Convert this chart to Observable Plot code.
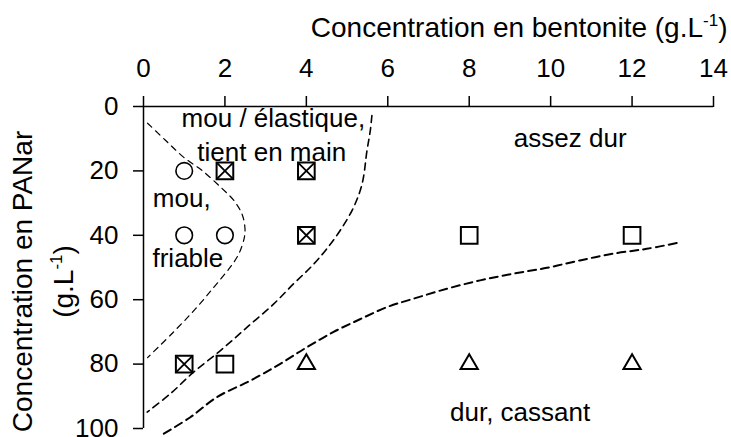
<!DOCTYPE html>
<html><head><meta charset="utf-8">
<script src="https://cdn.jsdelivr.net/npm/d3@7"></script>
<script src="https://cdn.jsdelivr.net/npm/@observablehq/plot@0.6"></script>
<style>body{margin:0;background:#fff} svg{display:block}</style>
</head><body><div id="chart"></div>
<script>
const xTicks = [0, 2, 4, 6, 8, 10, 12, 14];
const yTicks = [0, 20, 40, 60, 80, 100];

// observations
const bentonite = [1, 2, 4, 1, 2, 4, 8, 12, 1, 2, 4, 8, 12];
const panar     = [20, 20, 20, 40, 40, 40, 40, 40, 80, 80, 80, 80, 80];
const texture   = ["mou", "elastique", "elastique", "mou", "mou", "elastique", "assez dur", "assez dur",
                   "elastique", "assez dur", "cassant", "cassant", "cassant"];

// boundaries (dashed)
const curve1X = [0.1, 0.54, 0.99, 1.44, 1.89, 2.22, 2.42, 2.49, 2.48, 2.34, 2.13, 1.73, 1.28, 0.74, 0.1];
const curve1Y = [5.2, 10.5, 15.8, 19.9, 25, 29.2, 33.4, 37.5, 40.5, 45.8, 49.9, 56.1, 62.8, 70, 78];
const curve2X = [5.61, 5.57, 5.49, 5.37, 5.16, 4.83, 4.47, 4.1, 3.69, 3.2, 2.54, 1.89, 1.23, 0.66, 0.09];
const curve2Y = [2.8, 7.5, 13.6, 24, 31.3, 38.5, 44.7, 50, 55, 61.3, 68.6, 75.8, 82.5, 89.2, 94.9];
const curve3X = [0.5, 1.15, 1.81, 2.63, 3.36, 4.02, 4.67, 5.33, 5.98, 6.63, 7.45, 8.27, 9.09, 9.91, 10.72, 11.54, 12.36, 13.1];
const curve3Y = [101.6, 96.5, 90.2, 85.1, 79.9, 74.7, 70, 66, 62.3, 59.7, 56.6, 54, 51.9, 50.1, 47.8, 45.7, 44.2, 42.4];

// region labels
const labelText = ["mou / élastique,", "tient en main", "mou,", "friable", "assez dur", "dur, cassant"];
const labelX = [3.19, 3.15, 0.94, 1.09, 10.48, 9.25];
const labelY = [3.7, 14.2, 28.7, 47.3, 10, 95];

const xTitle = "Concentration en bentonite (g.L-1)";
const yTitle1 = "Concentration en PANar";
const yTitle2 = "(g.L-1)";

const points = bentonite.map((x, i) => ({x, y: panar[i], t: texture[i]}));
const toLine = (X, Y) => X.map((x, i) => ({x, y: Y[i]}));
const labels = labelText.map((text, i) => ({text, x: labelX[i], y: labelY[i]}));
const FONT = "'Liberation Sans', Arial, Helvetica, sans-serif";
const dash = {stroke: "black", fill: "none", curve: "catmull-rom"};

const plot = Plot.plot({
  width: 731, height: 437,
  marginLeft: 143, marginRight: 18, marginTop: 106, marginBottom: 9,
  style: {fontFamily: FONT, background: "white", color: "black", overflow: "visible"},
  x: {domain: [0, 14]},
  y: {domain: [0, 100], reverse: true},
  marks: [
    Plot.ruleY([0], {stroke: "black", strokeWidth: 1.5}),
    Plot.ruleX([0], {stroke: "black", strokeWidth: 1.5}),
    Plot.axisX({anchor: "top", ticks: xTicks, tickSize: 11, tickPadding: 19, fontSize: 26, label: null, strokeWidth: 1.5}),
    Plot.axisY({anchor: "left", ticks: yTicks, tickSize: 10, tickPadding: 15, fontSize: 26, label: null, strokeWidth: 1.5}),
    Plot.line(toLine(curve1X, curve1Y), {x: "x", y: "y", ...dash, strokeWidth: 1.2, strokeDasharray: "6,5"}),
    Plot.line(toLine(curve2X, curve2Y), {x: "x", y: "y", ...dash, strokeWidth: 1.6, strokeDasharray: "7,5"}),
    Plot.line(toLine(curve3X, curve3Y), {x: "x", y: "y", ...dash, strokeWidth: 2, strokeDasharray: "8,5"}),
    Plot.dot(points.filter(d => d.t === "mou"), {x: "x", y: "y", symbol: "circle", r: 8.3, stroke: "black", strokeWidth: 1.6, fill: "white"}),
    Plot.dot(points.filter(d => d.t === "elastique" || d.t === "assez dur"), {x: "x", y: "y", symbol: "square", r: 9.4, stroke: "black", strokeWidth: 2, fill: "white"}),
    Plot.dot(points.filter(d => d.t === "elastique"), {x: "x", y: "y", symbol: "times", r: 7.6, stroke: "black", strokeWidth: 1.8}),
    Plot.dot(points.filter(d => d.t === "cassant"), {x: "x", y: "y", symbol: "triangle", r: 6.4, stroke: "black", strokeWidth: 2, fill: "white"}),
    Plot.text(labels, {x: "x", y: "y", text: "text", fontSize: 26, fill: "black"}),
    Plot.text([xTitle], {frameAnchor: "top-right", textAnchor: "end", dx: 14, dy: -89, fontSize: 28, fill: "black"}),
    Plot.text([yTitle1], {frameAnchor: "left", textAnchor: "middle", rotate: -90, dx: -120, dy: 14, fontSize: 28, fill: "black"}),
    Plot.text([yTitle2], {frameAnchor: "left", textAnchor: "middle", rotate: -90, dx: -79, dy: 14, fontSize: 28, fill: "black"})
  ]
});

// superscript "-1"
const NS = "http://www.w3.org/2000/svg";
d3.select(plot).selectAll("text").each(function() {
  const s = this.textContent;
  if (!s.includes("g.L-1")) return;
  const [a, b] = s.split("-1");
  this.textContent = "";
  const t1 = document.createElementNS(NS, "tspan"); t1.textContent = a;
  const t2 = document.createElementNS(NS, "tspan"); t2.textContent = "-1";
  t2.setAttribute("font-size", "17"); t2.setAttribute("dy", "-11");
  const t3 = document.createElementNS(NS, "tspan"); t3.textContent = b; t3.setAttribute("dy", "11");
  this.append(t1, t2, t3);
});

document.getElementById("chart").append(plot);
</script>
</body></html>
